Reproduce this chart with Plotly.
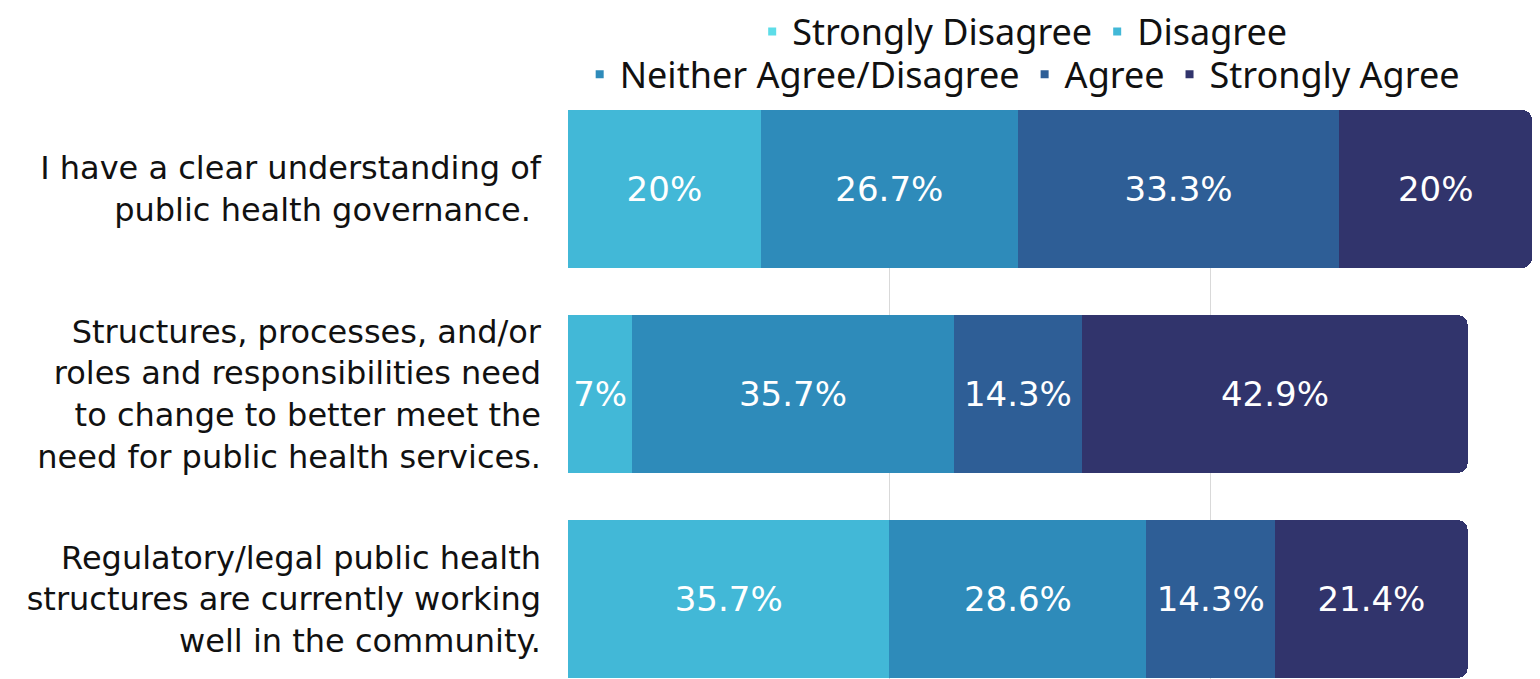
import plotly.graph_objects as go

# survey statements (top to bottom)
statements = [
    "I have a clear understanding of<br>public health governance.\u00a0",
    "Structures, processes, and/or<br>roles and responsibilities need<br>to change to better meet the<br>need for public health services.",
    "Regulatory/legal public health<br>structures are currently working<br>well in the community.",
]

levels = ["Strongly Disagree", "Disagree", "Neither Agree/Disagree", "Agree", "Strongly Agree"]
colors = ["#5ddde8", "#42b8d7", "#2e8bba", "#2e5e96", "#31346c"]

# response counts per statement
counts = {
    "Strongly Disagree": [0, 0, 0],
    "Disagree": [3, 1, 5],
    "Neither Agree/Disagree": [4, 5, 4],
    "Agree": [5, 2, 2],
    "Strongly Agree": [3, 6, 3],
}
# labels shown on the bars
pct_labels = {
    "Strongly Disagree": ["", "", ""],
    "Disagree": ["20%", "7%", "35.7%"],
    "Neither Agree/Disagree": ["26.7%", "35.7%", "28.6%"],
    "Agree": ["33.3%", "14.3%", "14.3%"],
    "Strongly Agree": ["20%", "42.9%", "21.4%"],
}

LABEL_FONT = "DejaVu Sans"
LEGEND_FONT = "Noto Sans"

fig = go.Figure()
for lvl, col in zip(levels, colors):
    fig.add_trace(go.Bar(
        y=statements, x=counts[lvl], orientation="h", name=lvl,
        marker=dict(color=col, line=dict(width=0)),
        text=pct_labels[lvl], textposition="inside", insidetextanchor="middle",
        textangle=0, textfont=dict(family=LABEL_FONT, size=34, color="white"),
        showlegend=False, legendgroup=lvl, hoverinfo="skip",
    ))

# legend entries with small square markers, split over two rows
for i, (lvl, col) in enumerate(zip(levels, colors)):
    fig.add_trace(go.Scatter(
        x=[None], y=[None], mode="markers", name=lvl, legendgroup=lvl,
        marker=dict(symbol="square", size=8, color=col),
        legend="legend" if i < 2 else "legend2",
    ))

leg_common = dict(orientation="h", xanchor="center", yanchor="middle",
                  xref="container", yref="container",
                  font=dict(family=LEGEND_FONT, size=36, color="#111111"),
                  bgcolor="rgba(0,0,0,0)", itemwidth=30, tracegroupgap=0)

# page body adds an 8px margin, so the figure is sized to the visible area
fig.update_layout(
    width=1532, height=671,
    margin=dict(l=560, r=6, t=102, b=0),
    plot_bgcolor="white", paper_bgcolor="white",
    barmode="stack", bargap=0.23, barcornerradius=10,
    uniformtext=dict(mode="show", minsize=34),
    legend=dict(x=0.662, y=0.965, **leg_common),
    legend2=dict(x=0.662, y=0.901, **leg_common),
    xaxis=dict(range=[0, 15.03], tick0=0, dtick=5, showgrid=True, gridcolor="#d9d9d9",
               gridwidth=1, showticklabels=False, zeroline=False, showline=False),
    yaxis=dict(range=[2.39, -0.385], showgrid=False, ticks="", ticklabelstandoff=26,
               automargin=False,
               tickfont=dict(family=LABEL_FONT, size=32, color="#111111")),
)

fig.write_html("out.html")
